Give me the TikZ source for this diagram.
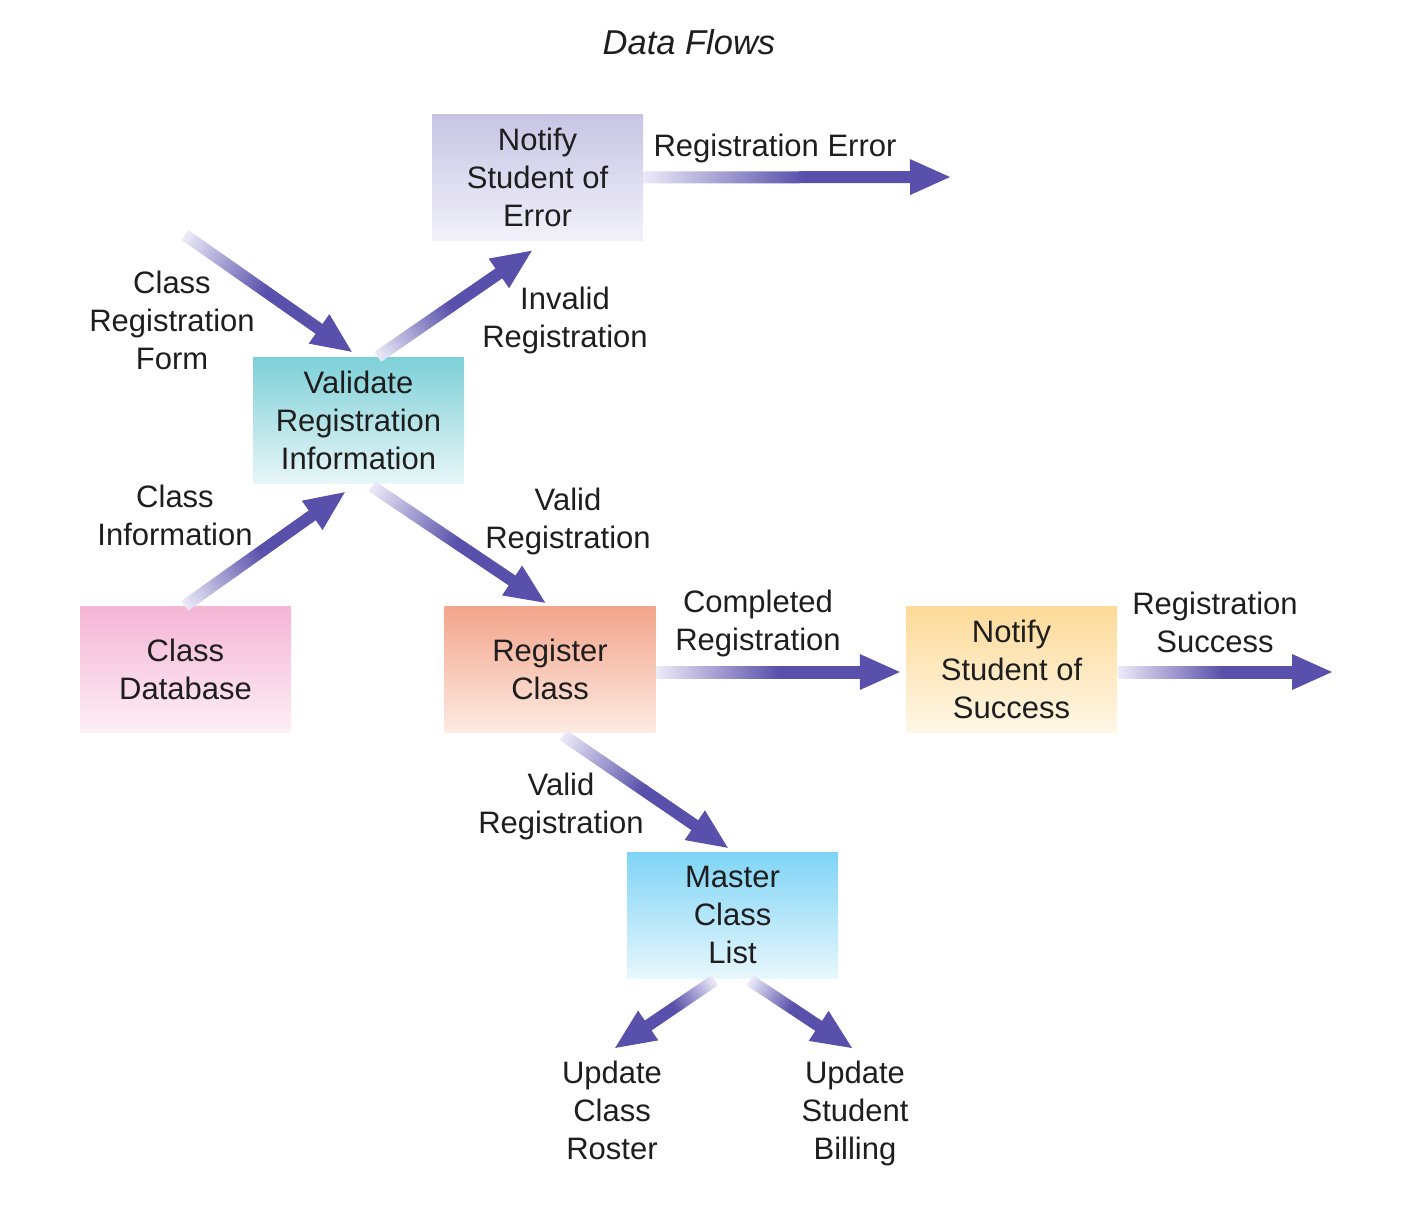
\documentclass[tikz,border=0pt]{standalone}
\usepackage{fontspec}
\setmainfont{Liberation Sans}
\usetikzlibrary{calc}
\definecolor{arrdark}{RGB}{88,80,170}
\definecolor{arrlight}{RGB}{236,234,248}
\definecolor{txt}{RGB}{30,30,30}
\definecolor{errT}{RGB}{200,196,228}\definecolor{errB}{RGB}{242,241,250}
\definecolor{valT}{RGB}{125,208,216}\definecolor{valB}{RGB}{232,246,247}
\definecolor{dbT}{RGB}{245,181,213}\definecolor{dbB}{RGB}{253,238,245}
\definecolor{regT}{RGB}{243,164,139}\definecolor{regB}{RGB}{253,235,226}
\definecolor{sucT}{RGB}{253,218,152}\definecolor{sucB}{RGB}{255,247,230}
\definecolor{masT}{RGB}{127,212,246}\definecolor{masB}{RGB}{232,247,253}
\pgfdeclarehorizontalshading{arrshade}{100bp}{color(0bp)=(arrlight); color(25bp)=(arrlight); color(55bp)=(arrdark); color(100bp)=(arrdark)}
\newdimen\gasx \newdimen\gasy \newdimen\gatx \newdimen\gaty
\newcommand\garrow[2]{%
  \coordinate (ga-s) at (#1);
  \coordinate (ga-t) at (#2);
  \pgfextractx{\gasx}{\pgfpointanchor{ga-s}{center}}%
  \pgfextracty{\gasy}{\pgfpointanchor{ga-s}{center}}%
  \pgfextractx{\gatx}{\pgfpointanchor{ga-t}{center}}%
  \pgfextracty{\gaty}{\pgfpointanchor{ga-t}{center}}%
  \pgfmathsetmacro\gaang{atan2(\gaty-\gasy,\gatx-\gasx)}%
  \pgfmathsetmacro\galen{veclen(\gatx-\gasx,\gaty-\gasy)}%
  \pgfmathsetmacro\gashaft{\galen-40}%
  \begin{scope}[transform canvas={shift={(\gasx,\gasy)}, rotate=\gaang}]
    \shade[shading=arrshade] (0pt,-6pt) rectangle (\gashaft pt+1pt,6pt);
    \fill[arrdark] (\gashaft pt,18pt) -- (\galen pt,0pt) -- (\gashaft pt,-18pt) -- cycle;
  \end{scope}
}
\begin{document}
\begin{tikzpicture}[x=1pt,y=-1pt,
  every node/.style={font=\fontsize{31}{38}\selectfont, text=txt, align=center, inner sep=0pt},
  box/.style={minimum width=211pt, minimum height=126pt, shading=axis},
  lbl/.style={}]
\useasboundingbox (0,0) rectangle (1412,1226);
\node[font=\fontsize{34.5}{40}\selectfont\itshape] (title) at (689,42) {Data Flows};
% boxes
\node[box, top color=errT, bottom color=errB] (err) at (537.5,177.5) {Notify\\Student of\\Error};
\node[box, top color=valT, bottom color=valB] (val) at (358.5,420) {Validate\\Registration\\Information};
\node[box, top color=dbT, bottom color=dbB] (db) at (185.5,669) {Class\\Database};
\node[box, top color=regT, bottom color=regB] (reg) at (550,669) {Register\\Class};
\node[box, top color=sucT, bottom color=sucB] (suc) at (1011.5,669) {Notify\\Student of\\Success};
\node[box, top color=masT, bottom color=masB] (mas) at (732.5,915) {Master\\Class\\List};
% labels
\node[lbl] (l1) at (172,320) {Class\\Registration\\Form};
\node[lbl] (l2) at (565,320) {Invalid\\Registration};
\node[lbl] (l3) at (775,148) {Registration Error};
\node[lbl] (l4) at (175,515) {Class\\Information};
\node[lbl] (l5) at (568,521) {Valid\\Registration};
\node[lbl] (l6) at (758,623) {Completed\\Registration};
\node[lbl] (l7) at (1215,622) {Registration\\Success};
\node[lbl] (l8) at (561,806) {Valid\\Registration};
\node[lbl] (l9) at (612,1110) {Update\\Class\\Roster};
\node[lbl] (l10) at (855,1113) {Update\\Student\\Billing};
% free ends
\coordinate (formIn) at (185,235);
\coordinate (errOut) at (950,177);
\coordinate (sucOut) at (1332,672);
\coordinate (rosterOut) at (615,1048);
\coordinate (billOut) at (852,1048);
% arrows
\garrow{formIn}{$(val.north west)+(99,-5)$}
\garrow{$(val.north west)+(125,0)$}{$(err.south west)+(100,10)$}
\garrow{$(err.east)+(0,0)$}{errOut}
\garrow{$(db.north west)+(105,0)$}{$(val.south west)+(92,9)$}
\garrow{$(val.south west)+(119,3)$}{$(reg.north west)+(101,-3)$}
\garrow{$(reg.east)+(1,3)$}{$(suc.west)+(-6,3)$}
\garrow{$(suc.east)+(1,3)$}{sucOut}
\garrow{$(reg.south west)+(119,3)$}{$(mas.north west)+(101,-4)$}
\garrow{$(mas.south west)+(88,2)$}{rosterOut}
\garrow{$(mas.south west)+(123,2)$}{billOut}
\end{tikzpicture}
\end{document}
